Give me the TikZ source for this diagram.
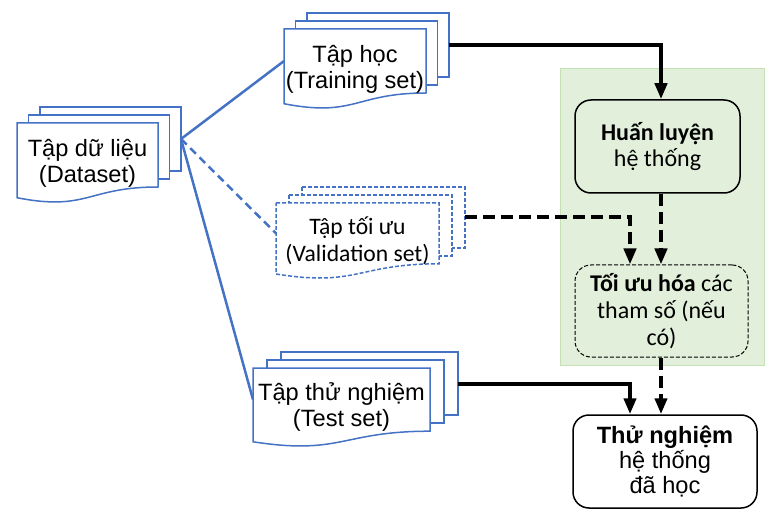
\documentclass[tikz,border=0pt]{standalone}
\usepackage{fontspec}
\setmainfont{Liberation Sans}
\newfontfamily\calibri{Carlito}
\usetikzlibrary{arrows.meta}

\definecolor{docblue}{HTML}{4472C4}
\definecolor{panelgreen}{HTML}{E2EFDA}
\definecolor{panelline}{HTML}{C5E0B4}

\tikzset{
  page/.style={draw=docblue, line width=0.75pt, fill=white},
  dottedpage/.style={page, dash pattern=on 2pt off 1pt},
  doctext/.style={align=center, font=\fontsize{11.8}{13}\selectfont},
  link/.style={docblue, line width=1.25pt},
  flow/.style={line width=2pt, -{Triangle[length=8pt,width=6pt]}},
  dashflow/.style={flow, dash pattern=on 6pt off 3pt},
  stepbox/.style={draw, line width=0.75pt, rounded corners=8pt, align=center, inner sep=0pt},
}

% stack of three pages: name, x, y, width, height, offset, style
\newcommand{\docstack}[7]{
  \draw[#7] ({#2+2*#6},{#3-16}) rectangle ++(#4,{0.8*#5});
  \draw[#7] ({#2+#6},{#3-8}) rectangle ++(#4,{0.8*#5});
  \draw[#7] (#2,#3) -- ({#2+#4},#3) -- ({#2+#4},{#3+0.8*#5})
    .. controls ({#2+0.5*#4},{#3+0.8*#5}) and ({#2+0.5*#4},{#3+1.107*#5}) .. (#2,{#3+0.934*#5}) -- cycle;
  \coordinate (#1-in) at (#2,{#3+0.4*#5});
  \coordinate (#1-out) at ({#2+2*#6+#4},{#3-16+0.4*#5});
  \coordinate (#1-mid) at ({#2+0.5*#4},{#3+0.5*#5});
}

\begin{document}
\begin{tikzpicture}[x=0.5pt,y=-0.5pt]
  \useasboundingbox (0,0) rectangle (776,513);

  % Green panel behind training and tuning
  \draw[panelline, fill=panelgreen] (560,68) rectangle (764,365);

  % Data sets
  \docstack{data}{17}{123}{141}{80}{11.5}{page}
  \docstack{trn}{284}{29}{142}{80}{11.5}{page}
  \docstack{val}{276}{203}{163}{76}{13}{dottedpage}
  \docstack{tst}{253}{368}{177}{79}{14}{page}

  \node[doctext] (data) at (data-mid) {Tập dữ liệu\\(Dataset)};
  \node[doctext] (trn) at (trn-mid) {Tập học\\(Training set)};
  \node[doctext, font=\calibri\fontsize{11.8}{13.5}\selectfont] (val) at (val-mid) {Tập tối ưu\\(Validation set)};
  \node[doctext] (tst) at (tst-mid) {Tập thử nghiệm\\(Test set)};

  % Steps
  \node[stepbox, fill=panelgreen, minimum width=82.5pt, minimum height=46.5pt,
        font=\calibri\fontsize{12}{13}\selectfont] (train) at (657.5,146.5)
        {\textbf{Huấn luyện}\\hệ thống};
  \node[stepbox, fill=panelgreen, line width=0.5pt, dash pattern=on 2pt off 1pt,
        minimum width=86.5pt, minimum height=46pt,
        font=\calibri\fontsize{12}{13.5}\selectfont] (opt) at (661.5,311)
        {\textbf{Tối ưu hóa} các\\tham số (nếu\\có)};
  \node[stepbox, fill=white, minimum width=92pt, minimum height=46.5pt,
        font=\fontsize{11.8}{12.5}\selectfont] (eval) at (665,461.5)
        {\textbf{Thử nghiệm}\\hệ thống\\đã học};

  % Split of the dataset
  \draw[link] (data-out) -- (trn-in);
  \draw[link, dash pattern=on 4pt off 2.5pt] (data-out) -- (val-in);
  \draw[link] (data-out) -- (tst-in);

  % Arrows into the steps
  \coordinate (colR) at (661,0);
  \coordinate (colL) at (630,0);
  \draw[flow] (trn-out) -| (colR |- train.north);
  \draw[dashflow] (val-out) -| (colL |- opt.north);
  \draw[dashflow] (colR |- train.south) -- (colR |- opt.north);
  \draw[dashflow] (colR |- opt.south) -- (colR |- eval.north);
  \draw[flow] (tst-out) -| (colL |- eval.north);
\end{tikzpicture}
\end{document}
